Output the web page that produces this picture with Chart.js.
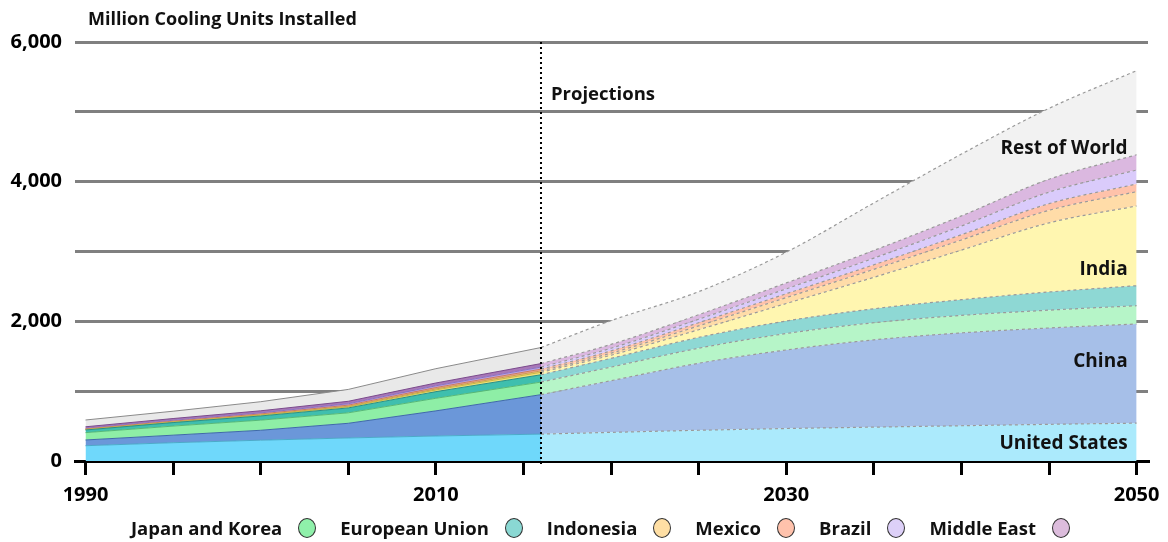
<!DOCTYPE html>
<html>
<head>
<meta charset="utf-8">
<script src="https://cdn.jsdelivr.net/npm/chart.js"></script>
<style>
  html, body { margin: 0; padding: 0; background: #fff; }
  #wrap { position: relative; width: 1168px; height: 542px; }
  #legend {
    position: absolute; left: 131px; top: 515px;
    display: flex; align-items: center;
    font: 700 18.5px "Open Sans", sans-serif; color: #111;
  }
  #legend .item { display: flex; align-items: center; margin-right: 24px; }
  #legend .dot {
    width: 18px; height: 20px; border-radius: 50%;
    border: 1px solid #333; margin-left: 16px; box-sizing: border-box;
  }
</style>
</head>
<body>
<div id="wrap">
  <canvas id="chart" width="1168" height="542"></canvas>
  <div id="legend"></div>
</div>
<script>
// ===== Data (million units installed)
const histYears = [1990, 1995, 2000, 2005, 2010, 2016];
const projYears = [2016, 2020, 2025, 2030, 2035, 2040, 2045, 2050];

const seriesNames = ['United States', 'China', 'Japan and Korea', 'European Union', 'India',
                     'Indonesia', 'Mexico', 'Brazil', 'Middle East', 'Rest of World'];

const histUS     = [219, 262, 298, 330, 358, 385];
const histChina  = [82, 108, 142, 210, 360, 565];
const histJK     = [105, 130, 145, 150, 180, 180];
const histEU     = [38, 50, 60, 70, 95, 105];
const histIndia  = [5, 7, 10, 15, 25, 35];
const histIndo   = [3, 4, 6, 9, 14, 20];
const histMexico = [8, 10, 13, 16, 20, 25];
const histBrazil = [10, 12, 15, 20, 25, 30];
const histME     = [20, 25, 30, 35, 40, 50];
const histROW    = [97, 105, 130, 170, 205, 230];

const projUS     = [385, 410, 440, 465, 485, 505, 525, 542];
const projChina  = [565, 740, 960, 1125, 1250, 1330, 1380, 1420];
const projJK     = [180, 195, 215, 235, 245, 250, 255, 262];
const projEU     = [105, 125, 155, 180, 200, 225, 260, 286];
const projIndia  = [35, 45, 110, 250, 450, 710, 990, 1142];
const projIndo   = [20, 30, 55, 85, 115, 145, 180, 205];
const projMexico = [25, 32, 45, 55, 65, 75, 95, 110];
const projBrazil = [30, 38, 50, 70, 95, 125, 165, 200];
const projME     = [50, 55, 65, 85, 110, 145, 185, 218];
const projROW    = [230, 340, 330, 440, 680, 885, 1015, 1205];

const yTickLabels = { 0: '0', 2000: '2,000', 4000: '4,000', 6000: '6,000' };
const xTickLabels = [1990, 2010, 2030, 2050];
const projectionYear = 2016;
const legendNames = ['Japan and Korea', 'European Union', 'Indonesia', 'Mexico', 'Brazil', 'Middle East'];

// ===== Colours
const histFill = ['#6fd8fb', '#6b97d9', '#8eeea6', '#3fbfae', '#f2e27a',
                  '#f5c98a', '#f0a890', '#b8a3e8', '#a878b8', '#e9e9e9'];
const histLine = ['#4aa9c9', '#3f6aa8', '#55b877', '#2a8f84', '#c8b640',
                  '#c99a50', '#c87a60', '#8a70c0', '#7a4a8c', '#8a8a8a'];
const projFill = ['#abeafc', '#a6bfe8', '#b6f5c8', '#8ed8d4', '#fff6b0',
                  '#ffdca8', '#ffc2aa', '#dacbfb', '#dbb8e0', '#f2f2f2'];
const legendColors = ['#8ff0aa', '#8ad8d3', '#ffdfa4', '#ffc2ac', '#ddd0f8', '#dcbcdc'];

const histData = [histUS, histChina, histJK, histEU, histIndia, histIndo, histMexico, histBrazil, histME, histROW];
const projData = [projUS, projChina, projJK, projEU, projIndia, projIndo, projMexico, projBrazil, projME, projROW];

const FONT = '"Open Sans", sans-serif';

const datasets = [];
histData.forEach((arr, i) => {
  datasets.push({
    label: seriesNames[i] + ' (historic)',
    stack: 'hist',
    data: arr.map((v, k) => ({ x: histYears[k], y: v })),
    backgroundColor: histFill[i],
    borderColor: histLine[i],
    borderWidth: 1,
    fill: i === 0 ? 'origin' : '-1',
    pointRadius: 0,
    tension: 0
  });
});
projData.forEach((arr, i) => {
  datasets.push({
    label: seriesNames[i],
    stack: 'proj',
    data: arr.map((v, k) => ({ x: projYears[k], y: v })),
    backgroundColor: projFill[i],
    borderColor: '#9a9a9a',
    borderWidth: 1.2,
    borderDash: [3, 3],
    fill: i === 0 ? 'origin' : '-1',
    pointRadius: 0,
    cubicInterpolationMode: 'monotone'
  });
});

// ===== Texts drawn on the chart
const annotations = {
  id: 'annotations',
  afterDatasetsDraw(chart) {
    const { ctx, chartArea, scales } = chart;
    const xp = scales.x.getPixelForValue(projectionYear);
    ctx.save();
    ctx.strokeStyle = '#000';
    ctx.lineWidth = 2;
    ctx.setLineDash([2, 3]);
    ctx.beginPath();
    ctx.moveTo(xp, chartArea.top);
    ctx.lineTo(xp, chartArea.bottom + 4);
    ctx.stroke();
    ctx.setLineDash([]);

    ctx.fillStyle = '#111';
    ctx.textBaseline = 'middle';
    ctx.textAlign = 'left';
    ctx.font = '700 18.5px ' + FONT;
    ctx.fillText('Projections', xp + 10, 95);
    ctx.font = '700 18px ' + FONT;
    ctx.fillText('Million Cooling Units Installed', chartArea.left + 13, 20);

    ctx.font = '700 19px ' + FONT;
    ctx.textAlign = 'right';
    const xr = scales.x.getPixelForValue(2050) - 9;
    [['Rest of World', 4480], ['India', 2735], ['China', 1418], ['United States', 243]].forEach(([t, v]) => {
      ctx.fillText(t, xr, scales.y.getPixelForValue(v));
    });
    ctx.restore();
  }
};

new Chart(document.getElementById('chart'), {
  type: 'line',
  data: { datasets },
  options: {
    responsive: false,
    animation: false,
    layout: { padding: { top: 42, right: 20, bottom: 40, left: 0 } },
    plugins: { legend: { display: false }, tooltip: { enabled: false } },
    scales: {
      x: {
        type: 'linear',
        min: 1989.4,
        max: 2050.65,
        afterBuildTicks: s => { s.ticks = []; for (let v = 1990; v <= 2050; v += 5) s.ticks.push({ value: v }); },
        afterFit: s => { s.height = 41; },
        border: { color: '#000', width: 3 },
        grid: { drawOnChartArea: false, drawTicks: true, tickLength: 14, color: '#000', lineWidth: 3 },
        ticks: {
          autoSkip: false, maxRotation: 0, padding: 8,
          color: '#000', font: { family: FONT, size: 20, weight: 700 },
          callback: v => xTickLabels.includes(v) ? String(v) : ''
        }
      },
      y: {
        stacked: true,
        min: 0,
        max: 6000,
        afterFit: s => { s.width = 75; },
        border: { display: false },
        grid: {
          drawTicks: false, lineWidth: 3,
          color: c => c.tick.value === 0 ? 'rgba(0,0,0,0)' : '#808080'
        },
        ticks: {
          stepSize: 1000, padding: 13,
          color: '#000', font: { family: FONT, size: 20, weight: 700 },
          callback: v => yTickLabels[v] !== undefined ? yTickLabels[v] : ''
        }
      }
    }
  },
  plugins: [annotations]
});

// ===== HTML legend (label then circle)
const legend = document.getElementById('legend');
legendNames.forEach((n, i) => {
  const item = document.createElement('div');
  item.className = 'item';
  const span = document.createElement('span');
  span.textContent = n;
  const dot = document.createElement('span');
  dot.className = 'dot';
  dot.style.background = legendColors[i];
  item.appendChild(span);
  item.appendChild(dot);
  legend.appendChild(item);
});
</script>
</body>
</html>
